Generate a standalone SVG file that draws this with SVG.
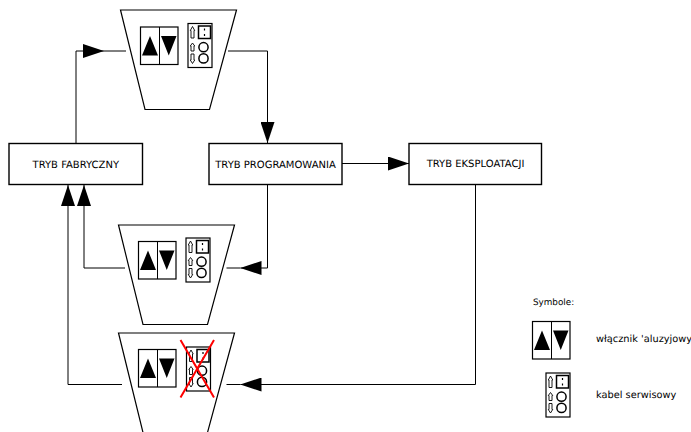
<svg xmlns="http://www.w3.org/2000/svg" width="691" height="432" viewBox="0 0 691 432">
<style>
.o{fill:none;stroke:#000;stroke-width:1.2}
.b{fill:#fff;stroke:#000;stroke-width:1.4}
.t{font-family:"DejaVu Sans",sans-serif;font-size:10px;fill:#000;text-rendering:geometricPrecision}
.c{fill:none;stroke:#000;stroke-width:1}
.x{stroke:#f00;stroke-width:2;fill:none}
.r{fill:none;stroke:#000;stroke-width:1.5}
.u{fill:#fff;stroke:#000;stroke-width:.9}
</style>
<defs>
<marker id="a" markerUnits="userSpaceOnUse" markerWidth="21" markerHeight="14" refX="21" refY="7" orient="auto"><path d="M0 0L21 7L0 14Z" fill="#000"/></marker>
<g id="sw">
<rect class="o" x="0.500" y="0.500" width="37.500" height="37.500"/>
<path class="c" d="M19.500 0.500V38"/>
<path d="M2 29L10 9.500L18 29Z M21 9.500H36.500L28.750 29Z" fill="#000"/>
</g>
<g id="pn">
<rect class="o" x="0.500" y="0.500" width="24" height="44"/>
<rect class="r" x="11" y="3" width="12" height="12.500" stroke-width="1.700"/>
<path d="M17 5.500v2M17 11v2" stroke="#000" stroke-width="1.200"/>
<circle class="r" cx="16" cy="24.200" r="4.600"/>
<circle class="r" cx="16" cy="35.400" r="4.600"/>
<path class="u" d="M3.500 15V7.500L2.800 7.500L5 3.500L7.200 7.500L6.500 7.500V15Z"/>
<path class="u" d="M3.500 28V23L2.800 23L5 20L7.200 23L6.500 23V28Z"/>
<path class="u" d="M3.500 31V37L2.800 37L5 40.500L7.200 37L6.500 37V31Z"/>
</g>
<path id="tr" class="o" d="M120.500 10H236.500L209.500 109.500H145Z"/>
</defs>
<g id="connectors">
<path class="c" d="M76 143V51H104" marker-end="url(#a)"/><path class="c" d="M104 51H126"/>
<path class="c" d="M228 51H267.500V143" marker-end="url(#a)"/>
<path class="c" d="M342 163.500H409" marker-end="url(#a)"/>
<path class="c" d="M267.500 185V268H240.500" marker-end="url(#a)"/><path class="c" d="M240.500 268H226.500"/>
<path class="c" d="M125 268H84V185" marker-end="url(#a)"/>
<path class="c" d="M122 384.500H68V185" marker-end="url(#a)"/>
<path class="c" d="M475.500 185V384.500H240.500" marker-end="url(#a)"/><path class="c" d="M240.500 384.500H226.500"/>
</g>
<g id="node-fabryczny"><rect class="b" x="9" y="143.500" width="133.500" height="41"/><text class="t" x="75.800" y="167.500" text-anchor="middle">TRYB FABRYCZNY</text></g>
<g id="node-programowania"><rect class="b" x="209" y="143.500" width="133" height="41"/><text class="t" x="275.500" y="167.500" text-anchor="middle">TRYB PROGRAMOWANIA</text></g>
<g id="node-eksploatacji"><rect class="b" x="409" y="143.500" width="132.500" height="41"/><text class="t" x="475.500" y="166.500" text-anchor="middle">TRYB EKSPLOATACJI</text></g>
<g id="state-top"><use href="#tr"/><use href="#sw" x="140" y="26.500"/><use href="#pn" x="187.500" y="23"/></g>
<g id="state-middle"><use href="#tr" x="-2" y="215"/><use href="#sw" x="138" y="241"/><use href="#pn" x="185.500" y="237.500"/></g>
<g id="state-bottom"><use href="#tr" x="-2" y="323"/><use href="#sw" x="138" y="349"/><use href="#pn" x="186" y="346.500"/>
<path class="x" d="M180.500 340L214 397.500M214 340L180.500 397.500"/></g>
<g id="legend">
<text class="t" x="533" y="305" style="font-size:8.800px">Symbole:</text>
<use href="#sw" x="532" y="321"/>
<text class="t" x="596" y="342" style="font-size:9.800px">włącznik 'aluzyjowy</text>
<use href="#pn" x="545.500" y="372.500"/>
<text class="t" x="596" y="397.500" style="font-size:9.800px">kabel serwisowy</text>
</g>
</svg>
